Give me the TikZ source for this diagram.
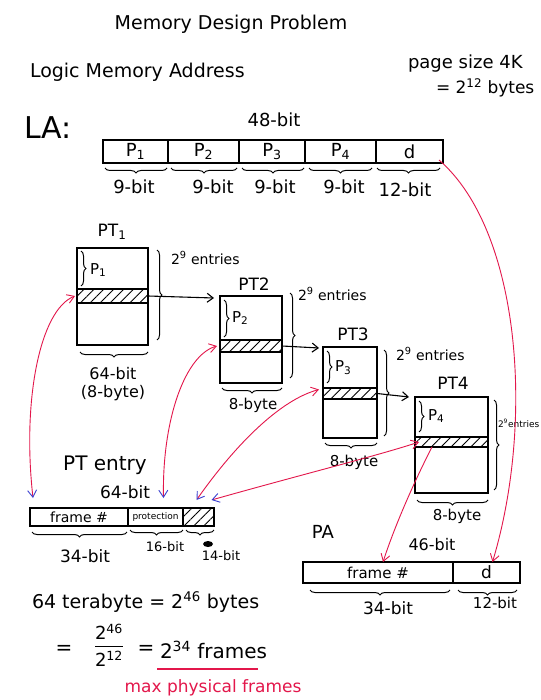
\documentclass[tikz,border=0pt]{standalone}
\usepackage{fontspec}
\setmainfont{DejaVu Sans}
\usetikzlibrary{arrows.meta,decorations.pathreplacing,patterns.meta,calc}
\definecolor{hred}{HTML}{E3174B}
\definecolor{hblue}{HTML}{3A3FD0}
\newcommand\fsz[1]{\fontsize{#1}{#1}\selectfont}
\setlength\arrayrulewidth{1.1pt}
\begin{document}
\begin{tikzpicture}[x=1pt,y=-1pt,
  txt/.style={inner sep=0pt, outer sep=0pt},
  tbl/.style={draw, line width=1.2pt, inner sep=0pt, outer sep=0pt, anchor=north west},
  hatchrow/.style={tbl, pattern={Lines[angle=45,distance=7pt,line width=0.9pt]}},
  brc/.style={decorate, decoration={brace, amplitude=5pt}, line width=1pt},
  brcm/.style={decorate, decoration={brace, mirror, amplitude=5pt}, line width=1pt},
  blk/.style={-{Straight Barb[length=6pt,width=9pt]}, line width=1.1pt},
  redc/.style={draw=hred, line width=0.9pt},
  rtip/.style={-{Straight Barb[color=hred,length=7pt,width=9pt]}},
  btip/.style={{Straight Barb[color=hblue,length=7pt,width=9pt]}-{Straight Barb[color=hred,length=7pt,width=9pt]}}
]
\useasboundingbox (0,0) rectangle (540,700);
\fill[white] (0,0) rectangle (540,700);

% headings
\node[txt,font=\fsz{19}] (title) at (231,24) {Memory Design Problem};
\node[txt,font=\fsz{19},anchor=west] (lma) at (30,72) {Logic Memory Address};
\node[txt,font=\fsz{18},anchor=west] (pgs) at (408,64) {page size 4K};
\node[txt,font=\fsz{17},anchor=west] (pgb) at (436,88) {= 2\textsuperscript{12} bytes};
\node[txt,font=\fsz{30},anchor=west] (la) at (24,128) {LA:};
\node[txt,font=\fsz{18}] (b48) at (274,120) {48-bit};

% logical address
\node[tbl,minimum width=65pt,minimum height=23pt,font=\fsz{18}] (lp1) at (103,140) {P\textsubscript{1}};
\node[tbl,minimum width=71pt,minimum height=23pt,font=\fsz{18}] (lp2) at (168,140) {P\textsubscript{2}};
\node[tbl,minimum width=66pt,minimum height=23pt,font=\fsz{18}] (lp3) at (239,140) {P\textsubscript{3}};
\node[tbl,minimum width=71pt,minimum height=23pt,font=\fsz{18}] (lp4) at (305,140) {P\textsubscript{4}};
\node[tbl,minimum width=67pt,minimum height=23pt,font=\fsz{18}] (ld) at (376,140) {d};
\draw[brcm] (105,168) -- (167,168);
\draw[brcm] (171,168) -- (237,168);
\draw[brcm] (242,168) -- (304,168);
\draw[brcm] (309,168) -- (372,168);
\draw[brcm] (377,168) -- (440,168);
\node[txt,font=\fsz{18}] (w1) at (134,187) {9-bit};
\node[txt,font=\fsz{18}] (w2) at (213,187) {9-bit};
\node[txt,font=\fsz{18}] (w3) at (275,187) {9-bit};
\node[txt,font=\fsz{18}] (w4) at (344,187) {9-bit};
\node[txt,font=\fsz{18}] (w5) at (405,190) {12-bit};

% PT1
\node[tbl,minimum width=71pt,minimum height=97pt] (pt1) at (77,248) {};
\node[hatchrow,minimum width=71pt,minimum height=14pt] (h1) at (77,289) {};
\node[txt,font=\fsz{17}] (pt1l) at (112,232) {PT\textsubscript{1}};
\draw[brc] (81,251) -- (81,286);
\node[txt,font=\fsz{15},anchor=west] (p1l) at (90,270) {P\textsubscript{1}};
\draw[brc] (157,250) -- (157,340);
\node[txt,font=\fsz{14},anchor=west] (e1) at (171,258) {2\textsuperscript{9} entries};
\draw[brcm] (80,352) -- (148,352);
\node[txt,font=\fsz{16}] (s1a) at (113,374) {64-bit};
\node[txt,font=\fsz{16}] (s1b) at (113,393) {(8-byte)};

% PT2
\node[tbl,minimum width=62pt,minimum height=87pt] (pt2) at (220,296) {};
\node[hatchrow,minimum width=62pt,minimum height=12pt] (h2) at (220,340) {};
\node[txt,font=\fsz{17}] (pt2l) at (254,284) {PT2};
\draw[brc] (224,300) -- (224,337);
\node[txt,font=\fsz{15},anchor=west] (p2l) at (232,318) {P\textsubscript{2}};
\draw[brc] (290,293) -- (290,378);
\node[txt,font=\fsz{14},anchor=west] (e2) at (298,294) {2\textsuperscript{9} entries};
\draw[brcm] (222,388) -- (282,388);
\node[txt,font=\fsz{15}] (s2) at (253,405) {8-byte};

% PT3
\node[tbl,minimum width=54pt,minimum height=91pt] (pt3) at (323,347) {};
\node[hatchrow,minimum width=54pt,minimum height=11pt] (h3) at (323,388) {};
\node[txt,font=\fsz{17}] (pt3l) at (353,334) {PT3};
\draw[brc] (327,351) -- (327,383);
\node[txt,font=\fsz{15},anchor=west] (p3l) at (335,368) {P\textsubscript{3}};
\draw[brc] (384,350) -- (384,436);
\node[txt,font=\fsz{14},anchor=west] (e3) at (396,354) {2\textsuperscript{9} entries};
\draw[brcm] (325,443) -- (377,443);
\node[txt,font=\fsz{15}] (s3) at (354,462) {8-byte};

% PT4
\node[tbl,minimum width=73pt,minimum height=96pt] (pt4) at (415,397) {};
\node[hatchrow,minimum width=73pt,minimum height=10pt] (h4) at (415,437) {};
\node[txt,font=\fsz{17}] (pt4l) at (453,383) {PT4};
\draw[brc] (419,401) -- (419,432);
\node[txt,font=\fsz{15},anchor=west] (p4l) at (428,416) {P\textsubscript{4}};
\draw[brc] (494,400) -- (494,490);
\node[txt,font=\fsz{9},anchor=west] (e4) at (498,423) {2\textsuperscript{9}entries};
\draw[brcm] (417,500) -- (488,500);
\node[txt,font=\fsz{15}] (s4) at (457,516) {8-byte};

% black arrows between tables
\draw[blk] (h1.east) -- ([xshift=-6pt,yshift=-2pt]pt2.north west);
\draw[blk] (h2.east) -- ([xshift=-4pt,yshift=-1pt]pt3.north west);
\draw[blk] (h3.east) -- ([xshift=-6pt]pt4.north west);

% PT entry
\node[txt,font=\fsz{20}] (pte) at (105,465) {PT entry};
\node[txt,font=\fsz{17}] (b64) at (125,492) {64-bit};
\node[tbl,minimum width=98pt,minimum height=18pt,font=\fsz{14}] (f1) at (30,508) {frame \#};
\node[tbl,minimum width=55pt,minimum height=18pt,font=\fsz{9}] (f2) at (128,508) {protection};
\node[hatchrow,minimum width=31pt,minimum height=18pt] (f3) at (183,508) {};
\draw[brcm] (32,532) -- (127,532);
\draw[brcm] (130,530) -- (183,530);
\draw[brcm] (186,530) -- (214,530);
\node[txt,font=\fsz{17}] (f1w) at (85,556) {34-bit};
\node[txt,font=\fsz{13}] (f2w) at (165,547) {16-bit};
\fill (208,544) ellipse (5pt and 3pt);
\node[txt,font=\fsz{13}] (f3w) at (221,556) {14-bit};

% frames computation
\node[txt,font=\fsz{19},anchor=west] (eq1) at (32,602) {64 terabyte = 2\textsuperscript{46} bytes};
\node[txt,font=\fsz{20}] (eqa) at (64,650) {=};
\node[txt,font=\fsz{18}] (frac) at (109,648) {\begin{tabular}{@{}c@{}}2\textsuperscript{46}\\[1pt]\hline\rule{0pt}{20pt}2\textsuperscript{12}\end{tabular}};
\node[txt,font=\fsz{20}] (eqb) at (146,650) {=};
\node[txt,font=\fsz{20},anchor=west] (eqc) at (160,650) {2\textsuperscript{34} frames};
\draw[hred,line width=1.1pt] (157,669) -- (258,669);
\node[txt,font=\fsz{17},text=hred] (mpf) at (213,688) {max physical frames};

% physical address
\node[txt,font=\fsz{18}] (pa) at (323,532) {PA};
\node[txt,font=\fsz{16}] (b46) at (432,545) {46-bit};
\node[tbl,minimum width=150pt,minimum height=21pt,font=\fsz{15}] (paf) at (303,562) {frame \#};
\node[tbl,minimum width=67pt,minimum height=21pt,font=\fsz{17}] (pad) at (453,562) {d};
\draw[brcm] (310,590) -- (450,590);
\draw[brcm] (458,590) -- (517,590);
\node[txt,font=\fsz{17}] (paw1) at (388,608) {34-bit};
\node[txt,font=\fsz{15}] (paw2) at (495,603) {12-bit};

% red connectors
\draw[redc,rtip] ([xshift=-4pt,yshift=3pt]ld.south east) .. controls (520,230) and (535,420) .. ([xshift=6pt]pad.north);
\draw[redc,btip] ([xshift=3pt,yshift=10pt]f1.north west) .. controls (22,400) and (40,310) .. ([xshift=-2pt]h1.west);
\draw[redc,btip] ([xshift=8pt,yshift=10pt]f2.north) .. controls (162,420) and (185,355) .. ([xshift=-3pt]h2.west);
\draw[redc,btip] ([xshift=-2pt,yshift=8pt]f3.north) .. controls (235,445) and (280,400) .. ([xshift=-4pt,yshift=4pt]h3.west);
\draw[redc,btip] ([xshift=13pt,yshift=8pt]f3.north) .. controls (300,475) and (380,455) .. ([xshift=4pt]h4.west);
\draw[redc,rtip] ([xshift=17pt]h4.south west) .. controls (415,480) and (395,525) .. ([xshift=5pt]paf.north);
\end{tikzpicture}
\end{document}
